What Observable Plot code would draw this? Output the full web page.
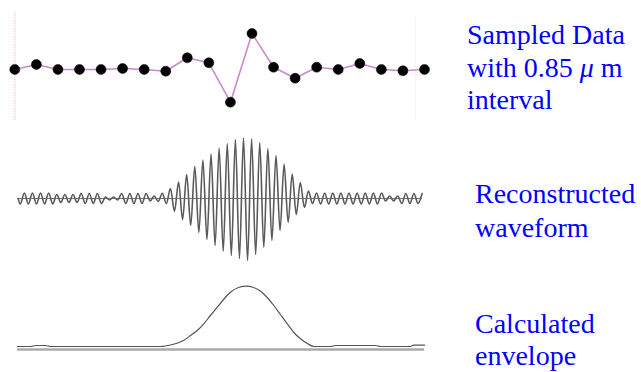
<!DOCTYPE html>
<html>
<head>
<meta charset="utf-8">
<script src="https://cdn.jsdelivr.net/npm/d3@7"></script>
<script src="https://cdn.jsdelivr.net/npm/@observablehq/plot@0.6"></script>
<style>
  html, body { margin: 0; padding: 0; background: #fff; }
  #wrap { position: relative; width: 641px; height: 372px; overflow: hidden; background: #fff; }
  #wrap svg { position: absolute; left: 0; }
  .lbl { position: absolute; font-family: "Liberation Serif", "DejaVu Serif", serif; font-size: 28px; color: #0000ff; white-space: nowrap; }
</style>
</head>
<body>
<div id="wrap"></div>
<script>
// ---- data ----
const sampleInterval = 0.85; // µm
const sampleValues = [0, 5, 0, 0, 0, 1, 0, -1.7, 11.7, 6.7, -32.7, 36, 2.3, -8.7, 2.3, 0, 6, 0, -1.3, 0];

// reconstructed waveform: successive fringe extrema (half-fringe spacing)
const fringeStart = 0.215;      // µm, position of first extremum
const fringeHalfPeriod = 0.16;  // µm
const fringeExtrema = [
  -5.5, 5.5, -5.5, 5.5, -5.5, 5.5, -5.5, 5.5, -5.5,
  4, -4, 4, -4, 4, -4,
  5, -5, 5, -5, 5, -5,
  1.5, -1.5, 1.5, -1.5,
  5, -5, 5, -5, 5, -5, 5,
  -2.5, 2.5, -3,
  5.3, -5, 10, -13, 16.5, -21, 24, -27, 32, -34, 38.5, -41, 44.5, -47, 50.5, -53, 55, -57, 59, -60,
  60.5, -62, 59.5, -56, 56, -49, 50, -42, 43, -32, 34.5, -24, 24.5, -16, 16, -9, 7.5, -5,
  5.5, -5.5, 5.5, -5.5, 5.5, -5.5, 5.5, -5.5, 5.5, -5.5, 5.5, -5.5, 5.5, -5.5, 5.5, -5.5, 5.5,
  -2.5, 2.5, -2.5, 2.5,
  -5, 5, -5, 5, -5, 5
];

// calculated envelope
const envelopeZ = [0.11, 0.62, 0.82, 1.21, 1.41, 5.74, 5.94, 6.14, 6.40, 6.65, 6.93, 7.19, 7.45, 7.71, 7.98, 8.23, 8.50, 8.82, 9.13, 9.41, 9.69, 9.95, 10.21, 10.47, 10.74, 11.00, 11.26, 11.53, 11.79, 12.45, 12.64, 14.22, 14.42, 15.60, 15.72, 16.15];
const envelopeValues = [0, 0, 1, 1, 0, 0, 0.5, 1.5, 3.3, 6, 11, 16, 22.7, 31, 39.3, 47, 54.3, 59, 60.3, 59, 55.3, 49, 41, 32, 22.7, 14, 7.7, 3, 0, 0, 1, 1, 0, 0, 1.3, 1.3];

const labels = [
  {lines: ["Sampled Data", "with 0.85 <i>\u03bc</i> m", "interval"], top: 19, left: 467, lh: 32.5},
  {lines: ["Reconstructed", "waveform"], top: 176.5, left: 475, lh: 34},
  {lines: ["Calculated", "envelope"], top: 307.5, left: 475, lh: 32}
];

// ---- derived tables ----
const samples = sampleValues.map((v, i) => ({z: i * sampleInterval, v}));
const fringe = [{z: fringeStart - fringeHalfPeriod / 2, v: 0}]
  .concat(fringeExtrema.map((v, k) => ({z: fringeStart + k * fringeHalfPeriod, v})));
const envelope = envelopeZ.map((z, i) => ({z, v: envelopeValues[i]}));

const xScale = {domain: [-0.5637, 17.5693]};
const W = 460;
const wrap = document.getElementById("wrap");

// panel 1: sampled data
const p1 = Plot.plot({
  width: W, height: 130, margin: 0,
  x: xScale, y: {domain: [-61, 69]}, axis: null,
  marks: [
    Plot.ruleX([0], {y1: -51, y2: 56, stroke: "#f2b8b8", strokeDasharray: "1,1", strokeWidth: 1}),
    Plot.ruleX([15.8], {y1: -51, y2: 52, stroke: "#f4f4ec", strokeWidth: 1}),
    Plot.line(samples, {x: "z", y: "v", stroke: "#cc88cc", strokeWidth: 1.6}),
    Plot.dot(samples, {x: "z", y: "v", r: 5, fill: "#000", stroke: "#000", strokeWidth: 0.5})
  ]
});
p1.style.top = "0px";
wrap.appendChild(p1);

// panel 2: reconstructed waveform
const p2 = Plot.plot({
  width: W, height: 135, margin: 0,
  x: xScale, y: {domain: [-67, 68]}, axis: null,
  marks: [
    Plot.ruleY([0], {x1: 0.11, x2: 16.07, stroke: "#777", strokeWidth: 1}),
    Plot.line(fringe, {x: "z", y: "v", curve: "monotone-x", stroke: "#5a5a5a", strokeWidth: 1.6})
  ]
});
p2.style.top = "130px";
wrap.appendChild(p2);

// panel 3: calculated envelope
const p3 = Plot.plot({
  width: W, height: 107, margin: 0,
  x: xScale, y: {domain: [-26, 81]}, axis: null,
  marks: [
    Plot.ruleY([-3], {x1: 0.11, x2: 16.15, stroke: "#aaa", strokeWidth: 2.5}),
    Plot.line(envelope, {x: "z", y: "v", curve: "monotone-x", stroke: "#555", strokeWidth: 1.2})
  ]
});
p3.style.top = "265px";
wrap.appendChild(p3);

// labels
for (const l of labels) {
  const d = document.createElement("div");
  d.className = "lbl";
  d.style.left = l.left + "px";
  d.style.top = l.top + "px";
  d.style.lineHeight = l.lh + "px";
  d.innerHTML = l.lines.join("<br>");
  wrap.appendChild(d);
}
</script>
</body>
</html>
